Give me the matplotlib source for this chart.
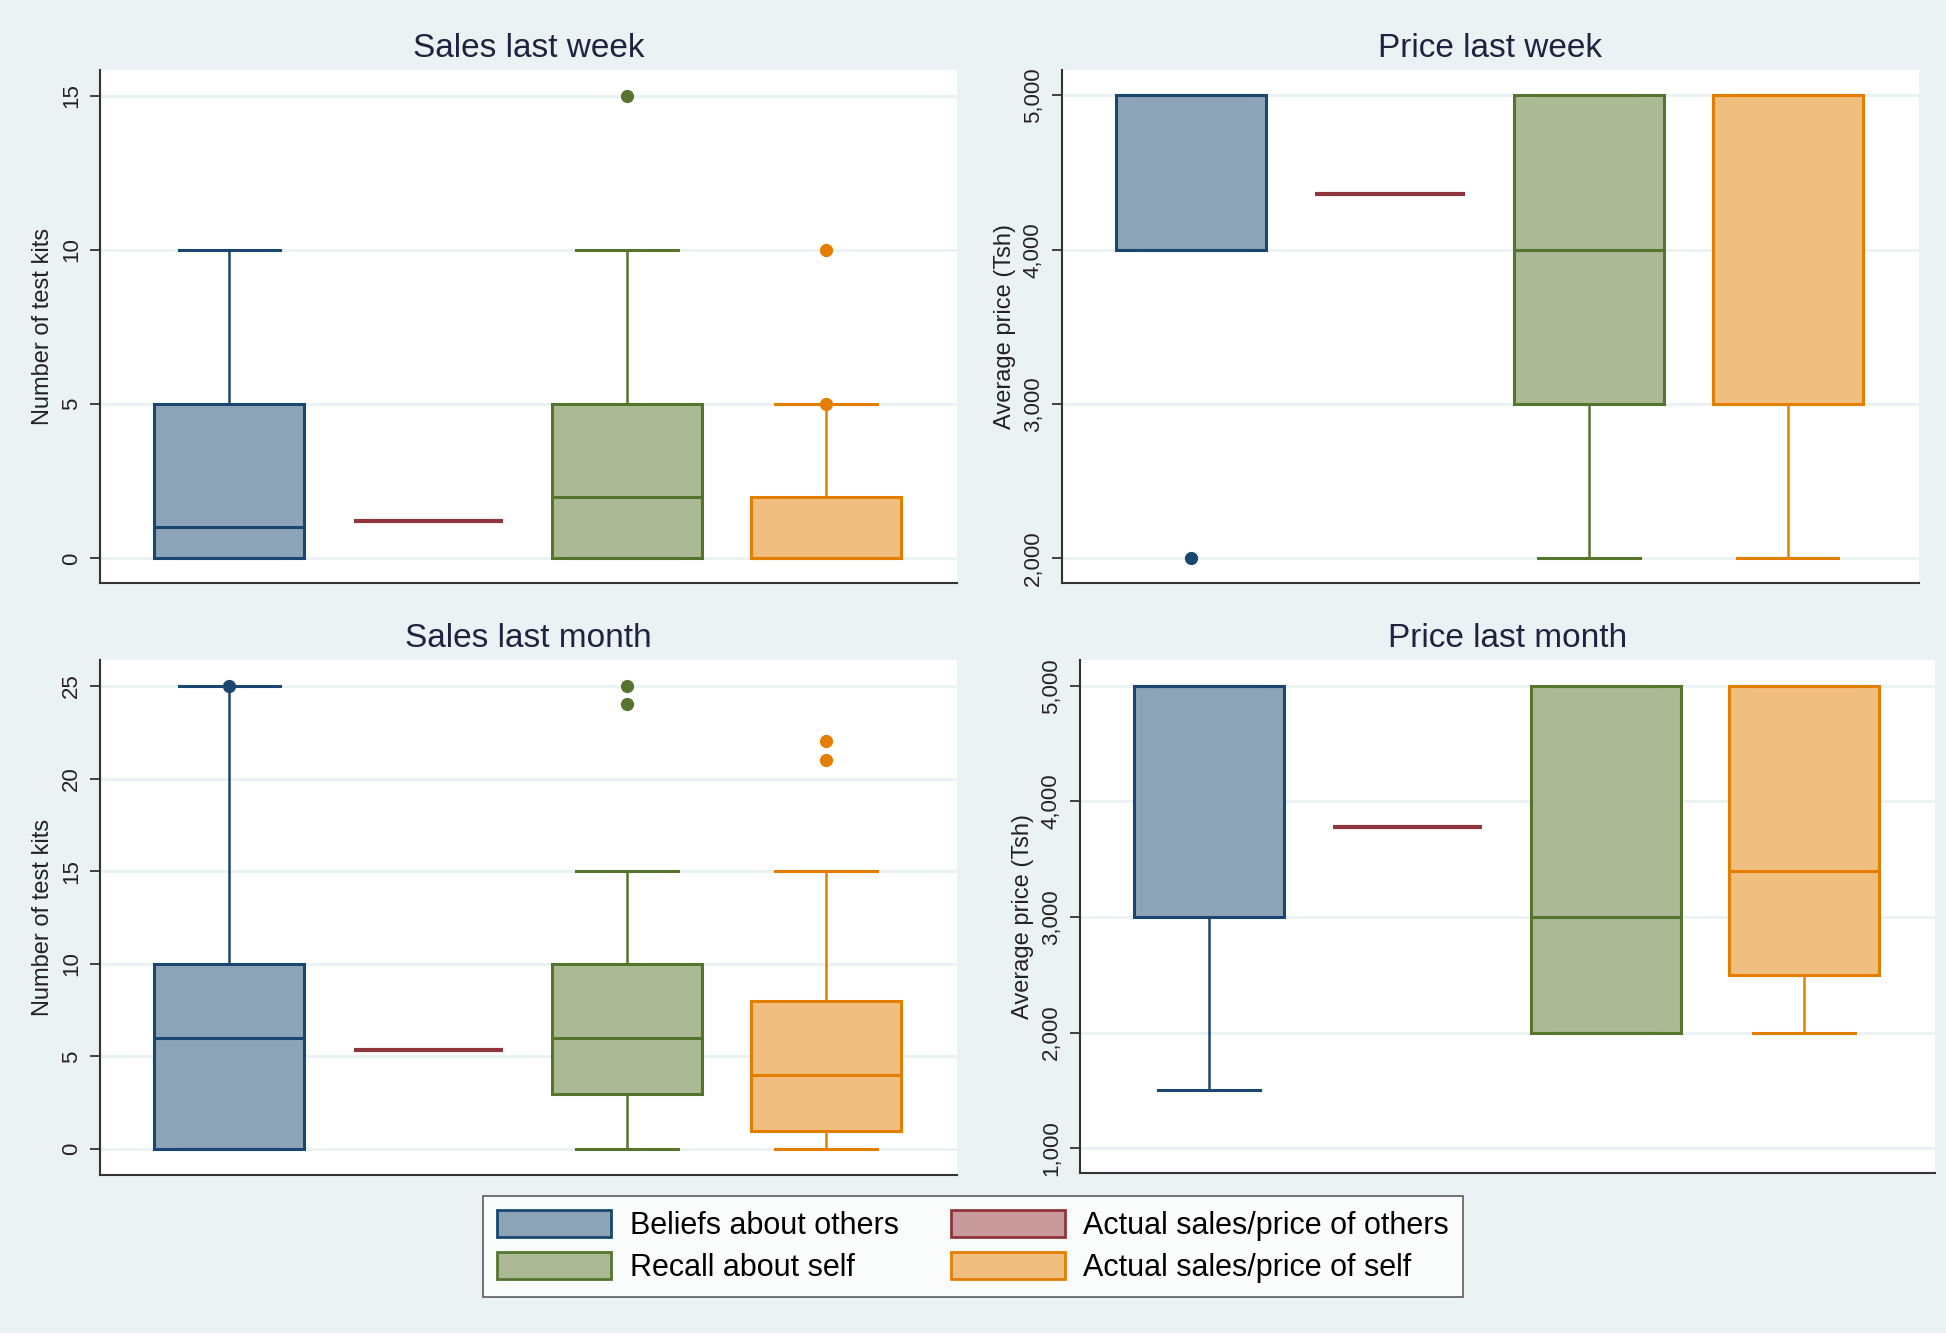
import matplotlib
matplotlib.use("Agg")
import matplotlib.pyplot as plt
from matplotlib.patches import Patch, Rectangle
from matplotlib.ticker import FuncFormatter

plt.rcParams['font.family'] = ['Liberation Sans', 'DejaVu Sans']

# groups drawn as boxes (positions 1, 3, 4) and the single "actual of others" line (position 2)
BOX_NAMES = ["Beliefs about others", "Recall about self", "Actual sales/price of self"]
OTHERS_NAME = "Actual sales/price of others"
BOX_POS = [1, 3, 4]
OTHERS_POS = 2

EDGE = ["#1A476F", "#55752F", "#E37E00"]
FILL = ["#8DA3B8", "#ABBA95", "#F0BE7E"]
OTHERS_EDGE = "#90353B"
OTHERS_FILL = "#C99A9C"
BG = "#EAF2F3"

# Sales last week
SW_Q1 = [0, 0, 0]
SW_MED = [1, 2, 0]
SW_Q3 = [5, 5, 2]
SW_LO = [0, 0, 0]
SW_HI = [10, 10, 5]
SW_OUT = [[], [15], [5, 10]]
SW_OTHERS = 1.22

# Price last week
PW_Q1 = [4000, 3000, 3000]
PW_MED = [5000, 4000, 5000]
PW_Q3 = [5000, 5000, 5000]
PW_LO = [4000, 2000, 2000]
PW_HI = [5000, 5000, 5000]
PW_OUT = [[2000], [], []]
PW_OTHERS = 4364

# Sales last month
SM_Q1 = [0, 3, 1]
SM_MED = [6, 6, 4]
SM_Q3 = [10, 10, 8]
SM_LO = [0, 0, 0]
SM_HI = [25, 15, 15]
SM_OUT = [[25], [24, 25], [21, 22]]
SM_OTHERS = 5.37

# Price last month
PM_Q1 = [3000, 2000, 2500]
PM_MED = [5000, 3000, 3400]
PM_Q3 = [5000, 5000, 5000]
PM_LO = [1500, 2000, 2000]
PM_HI = [5000, 5000, 5000]
PM_OUT = [[], [], []]
PM_OTHERS = 3780

TITLES = ["Sales last week", "Price last week", "Sales last month", "Price last month"]
YLABELS = ["Number of test kits", "Average price (Tsh)", "Number of test kits", "Average price (Tsh)"]
YTICKS = [[0, 5, 10, 15], [2000, 3000, 4000, 5000], [0, 5, 10, 15, 20, 25],
          [1000, 2000, 3000, 4000, 5000]]
YLIMS = [(-0.8, 15.83), (1840, 5165), (-1.4, 26.4), (784, 5225)]

PANELS = [
    (SW_Q1, SW_MED, SW_Q3, SW_LO, SW_HI, SW_OUT, SW_OTHERS),
    (PW_Q1, PW_MED, PW_Q3, PW_LO, PW_HI, PW_OUT, PW_OTHERS),
    (SM_Q1, SM_MED, SM_Q3, SM_LO, SM_HI, SM_OUT, SM_OTHERS),
    (PM_Q1, PM_MED, PM_Q3, PM_LO, PM_HI, PM_OUT, PM_OTHERS),
]

# axes rectangles in figure fractions
RECTS = [
    [0.0514, 0.5649, 0.4404, 0.3829],
    [0.5457, 0.5649, 0.4404, 0.3829],
    [0.0514, 0.1231, 0.4404, 0.3844],
    [0.5550, 0.1246, 0.4393, 0.3829],
]

fig = plt.figure(figsize=(19.46, 13.40), dpi=100, facecolor=BG)
# thin white strip along the bottom edge
fig.patches.append(Rectangle((0, 0), 1, 0.005, transform=fig.transFigure,
                             facecolor="white", edgecolor="none", zorder=0))

for i, (q1, med, q3, lo, hi, out, others) in enumerate(PANELS):
    ax = fig.add_axes(RECTS[i])
    ax.set_facecolor("white")
    for j in range(3):
        stats = [dict(q1=q1[j], med=med[j], q3=q3[j], whislo=lo[j], whishi=hi[j],
                      fliers=out[j])]
        ax.bxp(stats, positions=[BOX_POS[j]], widths=0.755, capwidths=0.51,
               patch_artist=True, manage_ticks=False,
               boxprops=dict(facecolor=FILL[j], edgecolor=EDGE[j], linewidth=2.2),
               medianprops=dict(color=EDGE[j], linewidth=2.2),
               whiskerprops=dict(color=EDGE[j], linewidth=1.8),
               capprops=dict(color=EDGE[j], linewidth=2.2),
               flierprops=dict(marker='o', markerfacecolor=EDGE[j],
                               markeredgecolor=EDGE[j], markersize=8.5))
    ax.hlines(others, OTHERS_POS - 0.375, OTHERS_POS + 0.375, color=OTHERS_EDGE,
              linewidth=3)

    ax.set_xlim(0.35, 4.66)
    ax.set_ylim(*YLIMS[i])
    ax.set_xticks([])
    ax.set_yticks(YTICKS[i])
    if i % 2 == 1:
        ax.yaxis.set_major_formatter(FuncFormatter(lambda v, p: f"{v:,.0f}"))
    ax.yaxis.grid(True, color=BG, linewidth=2)
    ax.set_axisbelow(True)
    ax.tick_params(axis='y', labelrotation=90, labelsize=16, length=7, width=1.2,
                   pad=6, colors='#222222')
    for lab in ax.get_yticklabels():
        lab.set_va('center')
    for side in ['top', 'right']:
        ax.spines[side].set_visible(False)
    for side in ['left', 'bottom']:
        ax.spines[side].set_color('#333333')
        ax.spines[side].set_linewidth(1.5)
    ax.set_ylabel(YLABELS[i], fontsize=17, labelpad=5, color='#222222')
    ax.set_title(TITLES[i], fontsize=24, pad=9, color='#1E2340')

handles = [
    Patch(facecolor=FILL[0], edgecolor=EDGE[0], linewidth=2, label=BOX_NAMES[0]),
    Patch(facecolor=FILL[1], edgecolor=EDGE[1], linewidth=2, label=BOX_NAMES[1]),
    Patch(facecolor=OTHERS_FILL, edgecolor=OTHERS_EDGE, linewidth=2, label=OTHERS_NAME),
    Patch(facecolor=FILL[2], edgecolor=EDGE[2], linewidth=2, label=BOX_NAMES[2]),
]
leg = fig.legend(handles=handles, ncol=2, loc='lower center', bbox_to_anchor=(0.5, 0.032),
                 fontsize=22, frameon=True, fancybox=False, edgecolor='#333333',
                 handlelength=3.73, handleheight=0.98, handletextpad=0.61,
                 columnspacing=1.7, labelspacing=0.37, borderpad=0.45,
                 borderaxespad=0)
leg.get_frame().set_linewidth(1.2)

fig.savefig("out.png", dpi=100, facecolor=BG)
